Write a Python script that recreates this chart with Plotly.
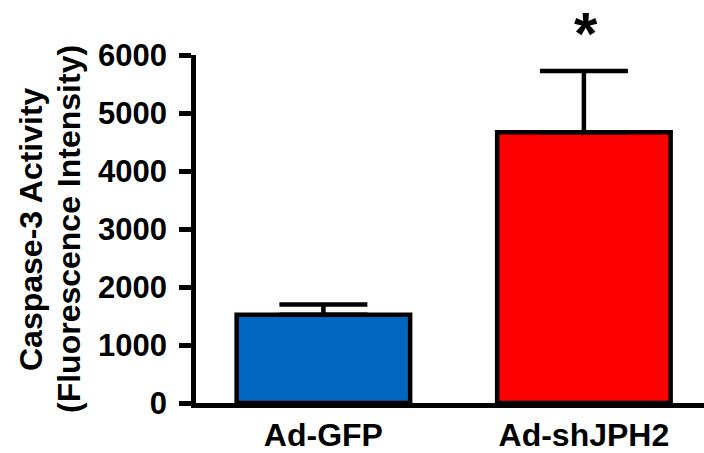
import plotly.graph_objects as go

categories = ["Ad-GFP", "Ad-shJPH2"]
means = [1520, 4670]
sem = [180, 1055]
colors = ["#0067C1", "#FF0000"]
y_ticks = [0, 1000, 2000, 3000, 4000, 5000, 6000]
y_title_lines = ["Caspase-3 Activity", "(Fluorescence Intensity)"]
significance = ["", "*"]
y_max = 6000

FONT = "Liberation Sans, Arial, Helvetica, sans-serif"

fig = go.Figure()
fig.add_trace(go.Bar(
    x=categories,
    y=means,
    marker=dict(color=colors, line=dict(color="black", width=4.5)),
    error_y=dict(type="data", array=sem, arrayminus=[0, 0], symmetric=False,
                 color="black", thickness=4.5, width=44),
    width=0.666,
))

for i, s in enumerate(significance):
    if s:
        fig.add_annotation(x=categories[i], y=1, xref="x", yref="paper", text=s,
                           showarrow=False, yanchor="top", xanchor="center",
                           yshift=56, xshift=2, borderpad=0,
                           font=dict(family=FONT, size=60, color="black", weight="bold"))

for line, shift in zip(y_title_lines, [31 - 196, 69 - 196]):
    fig.add_annotation(x=0, y=0.5, xref="paper", yref="paper", text=line,
                       textangle=-90, showarrow=False, xanchor="center", yanchor="middle",
                       xshift=shift,
                       font=dict(family=FONT, size=32, color="black", weight="bold"))

fig.update_layout(
    width=704, height=453,
    margin=dict(l=196, r=0, t=55, b=50, autoexpand=False),
    paper_bgcolor="white", plot_bgcolor="white",
    showlegend=False,
    font=dict(family=FONT, color="black"),
)
fig.update_xaxes(
    range=[-0.489, 1.461], showline=True, linecolor="black", linewidth=4.5,
    ticks="", showgrid=False, zeroline=False, automargin=False,
    tickfont=dict(family=FONT, size=32, color="black", weight="bold"),
)
fig.update_yaxes(
    range=[0, y_max], tickvals=y_ticks, ticktext=[str(v) for v in y_ticks],
    showline=True, linecolor="black", linewidth=4.5,
    ticks="outside", ticklen=12, tickwidth=4.5, tickcolor="black",
    ticklabelstandoff=6,
    showgrid=False, zeroline=False, automargin=False,
    tickfont=dict(family=FONT, size=31, color="black", weight="bold"),
)

fig.write_html("out.html", config={"displayModeBar": False},
               post_script="document.body.style.margin='0';")
